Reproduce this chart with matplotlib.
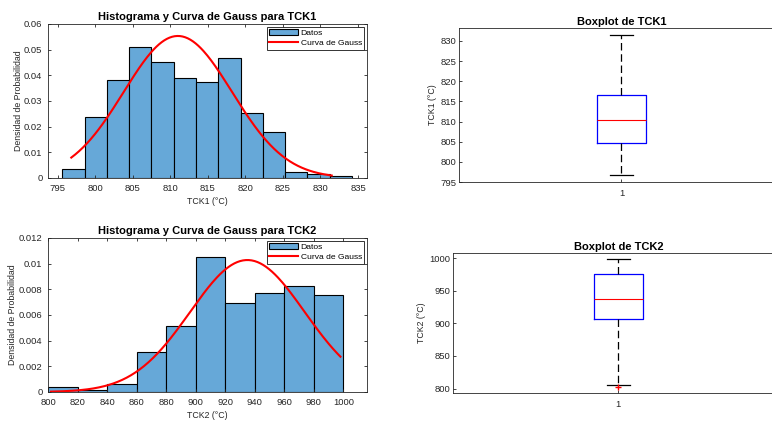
import numpy as np
import matplotlib
matplotlib.use('agg')
from matplotlib import pyplot as plt

# TCK1 histogram (probability density), 13 bins
tck1_start = 795.6
tck1_binw = 2.97
tck1_dens = [0.0034, 0.0238, 0.0383, 0.0510, 0.0450, 0.0390, 0.0373,
             0.0467, 0.0255, 0.0178, 0.0025, 0.0017, 0.0008]
tck1_mu, tck1_sigma = 811.0, 7.21
tck1_min, tck1_max = 796.8, 831.5

# TCK2 histogram, bins of 20 from 800
tck2_start = 800
tck2_binw = 20
tck2_dens = [0.00037, 0.00013, 0.00063, 0.00308, 0.00514, 0.01054,
             0.00694, 0.00770, 0.00822, 0.00759]
tck2_mu, tck2_sigma = 935.0, 38.8
tck2_min, tck2_max = 802.0, 998.0

# boxplot stats
box1 = dict(med=810.35, q1=804.7, q3=816.6, whislo=796.8, whishi=831.5, fliers=[])
box2 = dict(med=936.9, q1=907.1, q3=975.8, whislo=805.1, whishi=998.5, fliers=[802.5])

plt.rcParams['font.family'] = ['Liberation Sans', 'DejaVu Sans']
plt.rcParams['font.size'] = 6.3
plt.rcParams['axes.linewidth'] = 0.6

axcol = '#262626'
barcol = '#66a8d8'
tick_fs = 6.8
title_fs = 8

fig = plt.figure(figsize=(7.72, 4.23), dpi=100)


def style(ax):
    for s in ax.spines.values():
        s.set_color(axcol)
    ax.tick_params(direction='in', length=2.5, width=0.6, colors=axcol,
                   labelsize=tick_fs, top=True, right=True)
    ax.tick_params(axis='x', pad=4.5)
    ax.tick_params(axis='y', pad=4)


def hist_plot(ax, start, binw, dens, mu, sigma, xmin, xmax, name):
    edges = start + binw * np.arange(len(dens))
    bars = ax.bar(edges, dens, width=binw, align='edge', color=barcol,
                  edgecolor='black', linewidth=0.8)
    xs = np.linspace(xmin, xmax, 200)
    ys = np.exp(-0.5 * ((xs - mu) / sigma) ** 2) / (sigma * np.sqrt(2 * np.pi))
    line, = ax.plot(xs, ys, color='red', linewidth=1.5)
    ax.set_title(f'Histograma y Curva de Gauss para {name}', fontweight='bold',
                 fontsize=title_fs, pad=3)
    ax.set_xlabel(f'{name} (°C)', color=axcol, labelpad=3)
    ax.set_ylabel('Densidad de Probabilidad', color=axcol, labelpad=1)
    leg = ax.legend([bars, line], ['Datos', 'Curva de Gauss'],
                    loc='upper right', fancybox=False, edgecolor='black',
                    fontsize=6.1, handlelength=3.4, borderpad=0.3,
                    labelspacing=0.25, borderaxespad=0.3, handletextpad=0.3)
    leg.get_frame().set_linewidth(0.7)
    style(ax)


ax1 = fig.add_axes([0.0622, 0.5792, 0.4132, 0.3641])
hist_plot(ax1, tck1_start, tck1_binw, tck1_dens, tck1_mu, tck1_sigma,
          tck1_min, tck1_max, 'TCK1')
ax1.set_xlim(793.7, 836.2)
ax1.set_ylim(0, 0.06)
ax1.set_xticks(np.arange(795, 836, 5))
ax1.set_yticks([0, 0.01, 0.02, 0.03, 0.04, 0.05, 0.06])
ax1.set_yticklabels(['0', '0.01', '0.02', '0.03', '0.04', '0.05', '0.06'])

ax2 = fig.add_axes([0.0622, 0.0733, 0.4132, 0.3641])
hist_plot(ax2, tck2_start, tck2_binw, tck2_dens, tck2_mu, tck2_sigma,
          tck2_min, tck2_max, 'TCK2')
ax2.set_xlim(800, 1016)
ax2.set_ylim(0, 0.012)
ax2.set_xticks(np.arange(800, 1001, 20))
ax2.set_yticks([0, 0.002, 0.004, 0.006, 0.008, 0.01, 0.012])
ax2.set_yticklabels(['0', '0.002', '0.004', '0.006', '0.008', '0.01', '0.012'])


def box_plot(ax, stats, name):
    ax.bxp([stats], positions=[1], widths=0.15, showfliers=True,
           boxprops=dict(color='blue', linewidth=0.9),
           medianprops=dict(color='red', linewidth=0.8),
           whiskerprops=dict(color='black', linewidth=0.9, linestyle=(0, (6, 3))),
           capprops=dict(color='black', linewidth=0.9),
           capwidths=0.07,
           flierprops=dict(marker='+', markeredgecolor='red', markersize=4,
                           markeredgewidth=1.0))
    ax.set_xlim(0.5, 1.5)
    ax.set_xticks([1])
    ax.set_xticklabels(['1'])
    ax.set_title(f'Boxplot de {name}', fontweight='bold', fontsize=title_fs, pad=2)
    ax.set_ylabel(f'{name} (°C)', color=axcol, labelpad=2)
    for s in ax.spines.values():
        s.set_color(axcol)
    ax.tick_params(direction='in', length=2.5, width=0.6, colors=axcol,
                   labelsize=tick_fs, pad=2)
    ax.tick_params(axis='x', length=2, pad=5)


ax3 = fig.add_axes([0.5946, 0.5697, 0.4209, 0.3641])
box_plot(ax3, box1, 'TCK1')
ax3.set_ylim(795, 833.2)
ax3.set_yticks(np.arange(795, 831, 5))

ax4 = fig.add_axes([0.5868, 0.0709, 0.4284, 0.331])
box_plot(ax4, box2, 'TCK2')
ax4.set_ylim(793.2, 1007.7)
ax4.set_yticks([800, 850, 900, 950, 1000])

plt.savefig('out.png', dpi=100)
